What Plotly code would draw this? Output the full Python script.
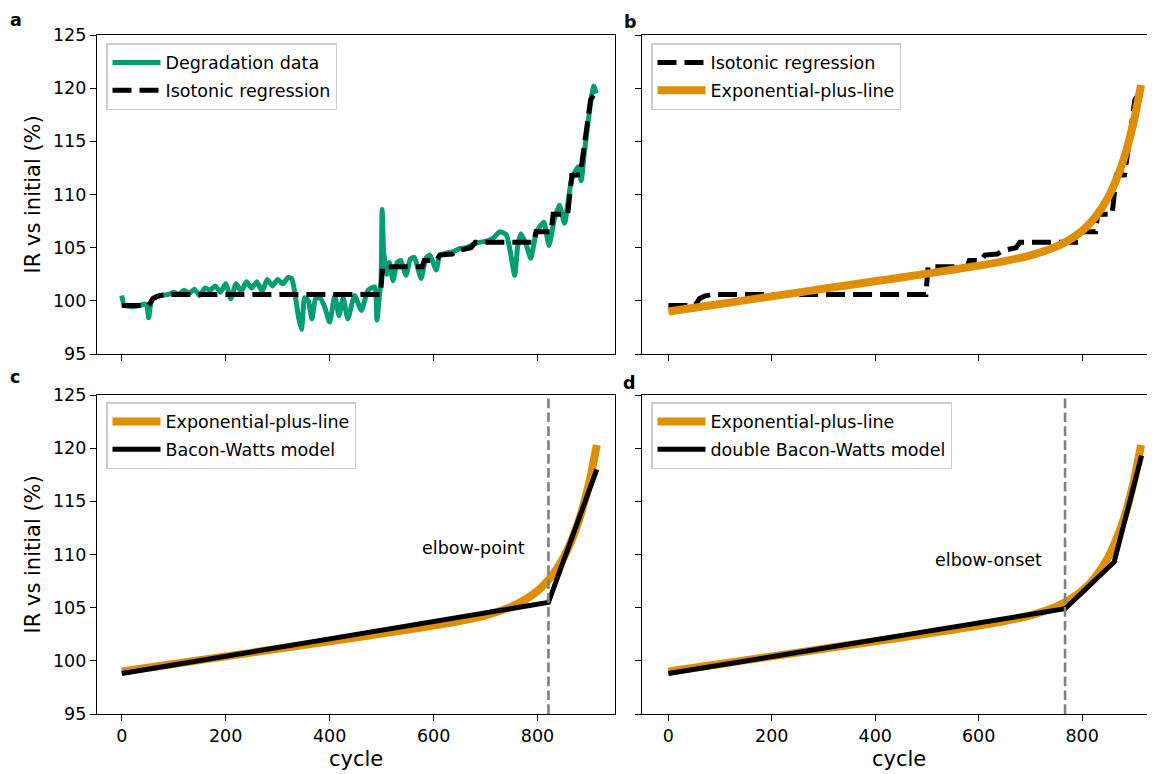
import plotly.graph_objects as go

# ---------------- data ----------------
deg_cycle = [0, 5, 15, 30, 44, 48, 52, 56, 62, 75, 90, 100, 110, 120, 130, 140, 150, 160, 170,
             180, 190, 200, 210, 220, 230, 240, 250, 260, 270, 280, 290, 300, 310, 320, 327,
             333, 340, 346, 352, 359, 366, 373, 381, 390, 400, 410, 418, 426, 435, 448, 461,
             474, 487, 491, 496, 499, 501, 504, 507, 510, 515, 522, 530, 537, 547, 555, 563,
             576, 585, 593, 605, 612, 625, 637, 650, 663, 676, 688, 700, 715, 727, 740, 748,
             756, 762, 768, 778, 787, 798, 812, 822, 832, 842, 852, 865, 878, 884, 890, 897,
             903, 908, 913]
deg_ir = [100.5, 99.6, 99.5, 99.5, 99.7, 99.6, 98.4, 99.8, 100.3, 100.5, 100.6, 100.8, 100.6,
          101.0, 100.7, 101.1, 100.5, 101.2, 101.0, 101.4, 100.8, 101.6, 100.2, 101.6, 100.9,
          101.8, 101.2, 101.8, 100.9, 102.0, 101.4, 102.0, 101.6, 102.2, 102.1, 100.8, 98.5,
          97.3, 100.3, 100.0, 98.3, 100.2, 100.3, 99.5, 98.0, 100.5, 98.6, 100.3, 98.3, 100.5,
          99.1, 101.0, 101.3, 98.2, 100.6, 102.0, 108.6, 104.5, 103.5, 102.5, 103.6, 101.9,
          103.6, 103.8, 102.4, 103.9, 104.1, 102.1, 104.0, 104.3, 102.9, 104.3, 104.5, 104.6,
          104.9, 105.0, 105.3, 105.5, 105.6, 105.9, 106.5, 106.2, 104.5, 102.4, 105.2, 106.3,
          105.3, 104.0, 106.5, 107.4, 105.2, 107.6, 109.0, 107.3, 111.3, 112.6, 111.3, 113.9,
          116.7, 118.9, 120.2, 119.5]

iso_cycle = [0, 50, 55, 60, 70, 85, 100, 498, 502, 578, 582, 605, 612, 636, 645, 672, 680,
             793, 797, 826, 830, 858, 866, 882, 888, 896, 902, 910]
iso_ir = [99.55, 99.55, 99.8, 100.2, 100.45, 100.6, 100.6, 100.6, 103.2, 103.2, 103.8, 103.8,
          104.3, 104.4, 104.7, 105.0, 105.5, 105.5, 106.5, 106.5, 108.15, 108.15, 111.8,
          111.85, 113.9, 116.7, 118.9, 119.5]

epl_cycle = [0, 100, 200, 300, 400, 500, 600, 650, 700, 750, 775, 800, 825, 850, 870, 885,
             900, 914]
epl_ir = [99.0, 99.71, 100.42, 101.13, 101.84, 102.56, 103.31, 103.74, 104.28, 105.10, 105.72,
          106.58, 107.84, 109.71, 111.88, 114.06, 116.89, 120.29]

bw_cycle = [0, 821, 914]
bw_ir = [98.8, 105.5, 118.0]

dbw_cycle = [0, 767, 862, 915]
dbw_ir = [98.8, 104.9, 109.3, 119.3]

elbow_point = 821
elbow_onset = 767

x_ticks = [0, 200, 400, 600, 800]
y_ticks = [95, 100, 105, 110, 115, 120, 125]

# ---------------- style ----------------
OFF = 8  # page body margin
W, H = 1155 - OFF, 774 - OFF
GREEN = "#029E73"
ORANGE = "#DE8F05"
FONT = "DejaVu Sans"
FS = 17.5

def px(x):
    return (x - OFF) / W

def py(y):
    return 1 - (y - OFF) / H

left_dom = [px(97), px(615)]
right_dom = [px(642), px(1154)]
top_dom = [py(354), py(35)]
bot_dom = [py(714), py(395)]

fig = go.Figure()

def add(x, y, xa, ya, name, color, width, dash=None, legend="legend", shape="linear", smooth=None):
    line = dict(color=color, width=width, shape=shape)
    if dash:
        line["dash"] = dash
    if smooth is not None:
        line["smoothing"] = smooth
    fig.add_trace(go.Scatter(x=x, y=y, mode="lines", name=name, line=line,
                             xaxis=xa, yaxis=ya, legend=legend, legendgroup=name + legend))

DASH = "19px,8px"
# panel a
add(deg_cycle, deg_ir, "x", "y", "Degradation data", GREEN, 5, legend="legend", shape="spline", smooth=0.5)
add(iso_cycle, iso_ir, "x", "y", "Isotonic regression", "black", 5, dash=DASH, legend="legend")
# panel b
add(iso_cycle, iso_ir, "x2", "y2", "Isotonic regression", "black", 5, dash=DASH, legend="legend2")
add(epl_cycle, epl_ir, "x2", "y2", "Exponential-plus-line", ORANGE, 8, legend="legend2", shape="spline", smooth=0.6)
# panel c
add(epl_cycle, epl_ir, "x3", "y3", "Exponential-plus-line", ORANGE, 8, legend="legend3", shape="spline", smooth=0.6)
add(bw_cycle, bw_ir, "x3", "y3", "Bacon-Watts model", "black", 5, legend="legend3")
# panel d
add(epl_cycle, epl_ir, "x4", "y4", "Exponential-plus-line", ORANGE, 8, legend="legend4", shape="spline", smooth=0.6)
add(dbw_cycle, dbw_ir, "x4", "y4", "double Bacon-Watts model", "black", 5, legend="legend4")

ax_common = dict(showgrid=False, zeroline=False, ticks="outside", ticklen=6, tickwidth=1.4,
                 tickcolor="black", linecolor="black", linewidth=1.4, mirror=True,
                 tickfont=dict(family=FONT, size=FS, color="black"), automargin=False)

xr_left = [-47.5, 949]
xr_right = [-51, 939]
yr = [95, 125]

fig.update_layout(
    xaxis=dict(domain=left_dom, anchor="y", range=xr_left, tickvals=x_ticks, showticklabels=False, **ax_common),
    yaxis=dict(domain=top_dom, anchor="x", range=yr, tickvals=y_ticks, **ax_common),
    xaxis2=dict(domain=right_dom, anchor="y2", range=xr_right, tickvals=x_ticks, showticklabels=False, **ax_common),
    yaxis2=dict(domain=top_dom, anchor="x2", range=yr, tickvals=y_ticks, showticklabels=False, **ax_common),
    xaxis3=dict(domain=left_dom, anchor="y3", range=xr_left, tickvals=x_ticks, **ax_common),
    yaxis3=dict(domain=bot_dom, anchor="x3", range=yr, tickvals=y_ticks, **ax_common),
    xaxis4=dict(domain=right_dom, anchor="y4", range=xr_right, tickvals=x_ticks, **ax_common),
    yaxis4=dict(domain=bot_dom, anchor="x4", range=yr, tickvals=y_ticks, showticklabels=False, **ax_common),
)

leg_common = dict(bgcolor="rgba(255,255,255,0.8)", bordercolor="#cccccc", borderwidth=1.5,
                  font=dict(family=FONT, size=FS, color="black"), xanchor="left", yanchor="top",
                  tracegroupgap=2, itemwidth=48, traceorder="grouped")
fig.update_layout(
    legend=dict(x=px(106), y=py(43), **leg_common),
    legend2=dict(x=px(651), y=py(43), **leg_common),
    legend3=dict(x=px(106), y=py(402), **leg_common),
    legend4=dict(x=px(651), y=py(402), **leg_common),
)

# vertical elbow lines
for xa, ya, xv in [("x3", "y3", elbow_point), ("x4", "y4", elbow_onset)]:
    fig.add_shape(type="line", xref=xa, yref=ya + " domain", x0=xv, x1=xv, y0=0, y1=1,
                  line=dict(color="gray", width=2.6, dash="9.7px,4.2px"))

fig.add_annotation(x=780, y=110.6, xref="x3", yref="y3", text="elbow-point", showarrow=False,
                   xanchor="right", yanchor="middle", font=dict(family=FONT, size=FS, color="black"))
fig.add_annotation(x=726, y=109.5, xref="x4", yref="y4", text="elbow-onset", showarrow=False,
                   xanchor="right", yanchor="middle", font=dict(family=FONT, size=FS, color="black"))

# panel letters
for t, x, y in [("a", 16, 20), ("b", 630, 22), ("c", 15, 377), ("d", 629, 383)]:
    fig.add_annotation(x=px(x), y=py(y), xref="paper", yref="paper", text="<b>%s</b>" % t,
                       showarrow=False, xanchor="center", yanchor="middle",
                       font=dict(family=FONT, size=FS, color="black"))

# axis titles
for yc in [(35 + 354) / 2, (395 + 714) / 2]:
    fig.add_annotation(x=px(32), y=py(yc), xref="paper", yref="paper", text="IR vs initial (%)",
                       textangle=-90, showarrow=False, xanchor="center", yanchor="middle",
                       font=dict(family=FONT, size=21, color="black"))
for xc in [(97 + 615) / 2, (642 + 1155) / 2]:
    fig.add_annotation(x=px(xc), y=py(759), xref="paper", yref="paper", text="cycle",
                       showarrow=False, xanchor="center", yanchor="middle",
                       font=dict(family=FONT, size=21, color="black"))

fig.update_layout(width=W, height=H, margin=dict(l=0, r=0, t=0, b=0),
                  paper_bgcolor="white", plot_bgcolor="white",
                  font=dict(family=FONT, size=FS, color="black"))

fig.write_html("out.html")
